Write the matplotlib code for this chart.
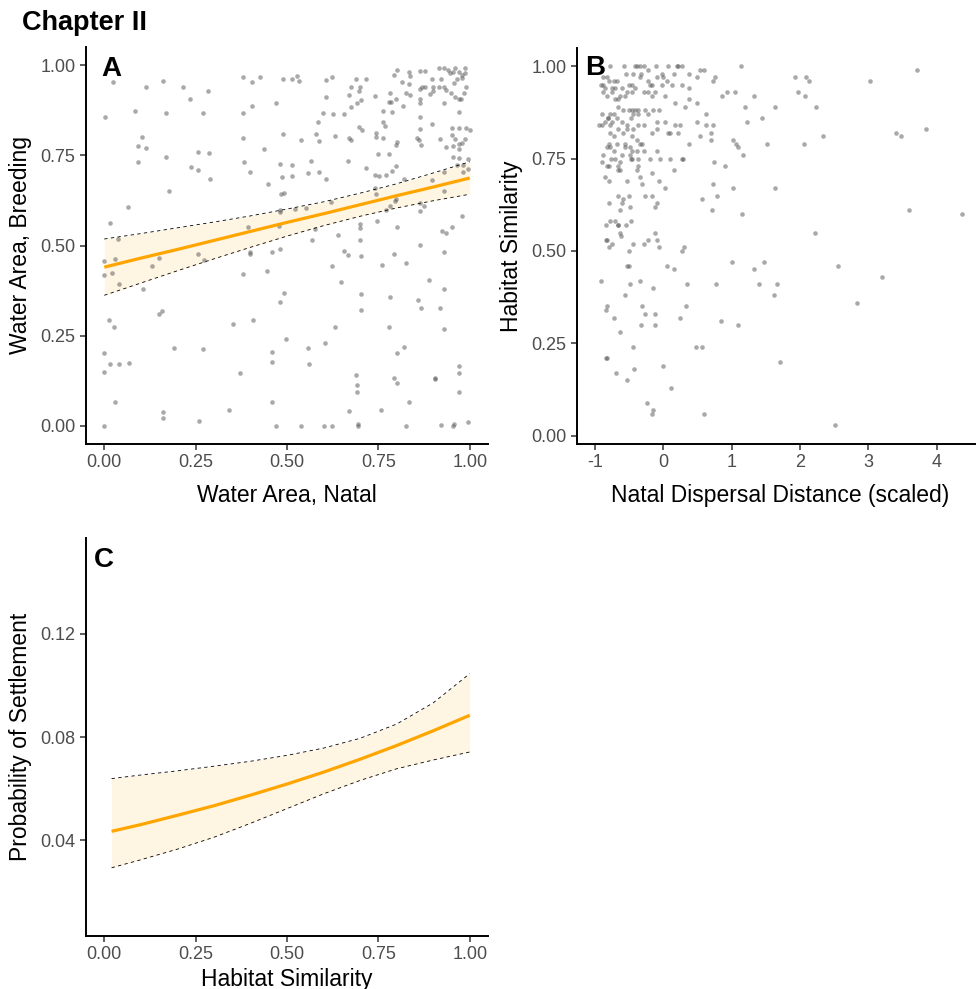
import matplotlib
matplotlib.use("Agg")
import matplotlib.pyplot as plt
import numpy as np

plt.rcParams["font.family"] = ["Liberation Sans", "DejaVu Sans"]
plt.rcParams["axes.unicode_minus"] = False

# ---------------- Panel A: natal vs breeding water area ----------------
water_natal = [
    0.025, 0.114, 0.160, 0.216, 0.284, 0.234, 0.379, 0.403, 0.425, 0.489, 0.471, 0.403, 0.379, 0.003,
    0.084, 0.168, 0.270, 0.104, 0.093, 0.114, 0.093, 0.168, 0.257, 0.286, 0.236, 0.257, 0.288, 0.379,
    0.436, 0.489, 0.383, 0.398, 0.480, 0.486, 0.449, 0.483, 0.492, 0.177, 0.065, 0.015, 0.037, 0.393,
    0.478, 0.482, 0.481,
    0.000, 0.029, 0.000, 0.021, 0.041, 0.106, 0.130, 0.151, 0.257, 0.272, 0.398, 0.398, 0.458, 0.380,
    0.445, 0.492, 0.482, 0.012, 0.026, 0.150, 0.159, 0.352, 0.408, 0.498, 0.000, 0.015, 0.040, 0.067,
    0.000, 0.191, 0.270, 0.458, 0.458, 0.372, 0.030, 0.160, 0.160, 0.259, 0.342, 0.458, 0.471, 0.000,
    0.537, 0.600, 0.624, 0.694, 0.694, 0.826, 0.922, 0.953, 0.956, 0.996,
    0.514, 0.526, 0.532, 0.608, 0.624, 0.690, 0.715, 0.676, 0.701, 0.696, 0.671, 0.703, 0.691, 0.674,
    0.606, 0.598, 0.625, 0.657, 0.586, 0.537, 0.580, 0.587, 0.632, 0.671, 0.675, 0.696, 0.706, 0.741,
    0.763, 0.787, 0.762, 0.768, 0.744, 0.744, 0.763, 0.802, 0.797, 0.748, 0.780, 0.668, 0.567, 0.717,
    0.798, 0.788, 0.740, 0.752, 0.772, 0.514, 0.514, 0.557, 0.587, 0.607, 0.820, 0.898, 0.930, 0.981,
    0.996, 0.996, 0.953, 0.972, 0.966, 0.981, 0.935, 0.955, 0.970, 0.972, 0.980, 0.920, 0.988, 0.951,
    0.961, 0.952, 0.972, 0.990, 1.000, 0.897, 0.856, 0.861, 0.867, 0.863, 0.863, 0.972, 0.929, 0.863,
    0.863, 0.892, 0.899, 0.817, 0.826, 0.837, 0.781, 0.780, 0.784, 0.797, 0.814, 0.793, 0.802, 0.835,
    0.837, 0.834, 0.864, 0.877, 0.863, 0.869, 0.878, 0.898, 0.922, 0.917, 0.929, 0.934, 0.949, 0.959,
    0.972, 0.977, 0.983, 0.917, 0.929, 0.940, 0.947, 0.954, 0.961, 0.972, 0.979, 0.987, 0.988, 0.958,
    0.966, 0.979, 0.989, 0.899,
    0.480, 0.521, 0.551, 0.621, 0.744, 0.742, 0.799, 0.795, 0.781, 0.770, 0.863, 0.875, 0.863, 0.929,
    0.747, 0.700, 0.701, 0.802, 0.979, 0.952, 0.923, 0.934, 0.576, 0.639, 0.569, 0.700, 0.863,
    0.655, 0.667, 0.702, 0.793, 0.930, 0.623, 0.759, 0.826, 0.648, 0.889, 0.702, 0.783, 0.859, 0.866,
    0.929, 0.920, 0.702, 0.632, 0.780, 0.929, 0.557, 0.604, 0.559, 0.821, 0.802, 0.970, 0.971, 0.690,
    0.691, 0.691, 0.793, 0.802, 0.904, 0.904, 0.972, 0.833, 0.670, 0.756,
]
water_breeding = [
    0.952, 0.939, 0.955, 0.939, 0.927, 0.905, 0.968, 0.952, 0.968, 0.962, 0.896, 0.886, 0.867, 0.856,
    0.873, 0.867, 0.866, 0.801, 0.776, 0.771, 0.730, 0.744, 0.759, 0.757, 0.717, 0.709, 0.684, 0.797,
    0.767, 0.810, 0.730, 0.704, 0.725, 0.689, 0.670, 0.644, 0.646, 0.650, 0.608, 0.563, 0.517, 0.552,
    0.554, 0.592, 0.489,
    0.457, 0.462, 0.419, 0.423, 0.394, 0.379, 0.443, 0.466, 0.476, 0.460, 0.483, 0.476, 0.483, 0.422,
    0.428, 0.368, 0.343, 0.294, 0.274, 0.311, 0.319, 0.283, 0.294, 0.240, 0.202, 0.173, 0.171, 0.175,
    0.150, 0.216, 0.212, 0.206, 0.176, 0.147, 0.066, 0.038, 0.022, 0.014, 0.045, 0.066, 0.000, 0.000,
    0.000, 0.000, 0.000, 0.006, 0.000, 0.000, 0.003, 0.000, 0.006, 0.012,
    0.961, 0.970, 0.957, 0.958, 0.966, 0.961, 0.961, 0.940, 0.940, 0.929, 0.917, 0.903, 0.894, 0.885,
    0.912, 0.867, 0.865, 0.865, 0.843, 0.791, 0.809, 0.789, 0.803, 0.797, 0.791, 0.827, 0.820, 0.915,
    0.873, 0.870, 0.843, 0.831, 0.812, 0.801, 0.797, 0.786, 0.778, 0.754, 0.753, 0.735, 0.735, 0.715,
    0.719, 0.706, 0.696, 0.692, 0.694, 0.724, 0.693, 0.701, 0.703, 0.683, 0.683, 0.682, 0.704, 0.705,
    0.713, 0.740, 0.746, 0.743, 0.723, 0.723, 0.774, 0.776, 0.780, 0.767, 0.785, 0.795, 0.795, 0.806,
    0.794, 0.826, 0.826, 0.826, 0.819, 0.838, 0.797, 0.792, 0.778, 0.824, 0.857, 0.871, 0.894, 0.896,
    0.906, 0.920, 0.928, 0.886, 0.922, 0.917, 0.922, 0.898, 0.898, 0.905, 0.954, 0.972, 0.986, 0.981,
    0.970, 0.948, 0.983, 0.983, 0.935, 0.939, 0.939, 0.961, 0.961, 0.940, 0.940, 0.931, 0.922, 0.912,
    0.905, 0.905, 0.923, 0.991, 0.991, 0.986, 0.977, 0.981, 0.991, 0.981, 0.972, 0.979, 0.991, 0.949,
    0.961, 0.963, 0.940, 0.940,
    0.598, 0.601, 0.604, 0.620, 0.642, 0.658, 0.630, 0.623, 0.609, 0.598, 0.617, 0.609, 0.596, 0.651,
    0.569, 0.560, 0.548, 0.550, 0.583, 0.552, 0.540, 0.535, 0.545, 0.529, 0.514, 0.514, 0.501,
    0.486, 0.473, 0.470, 0.476, 0.483, 0.444, 0.447, 0.452, 0.398, 0.405, 0.365, 0.357, 0.348, 0.328,
    0.379, 0.328, 0.321, 0.275, 0.275, 0.268, 0.217, 0.229, 0.172, 0.219, 0.201, 0.165, 0.148, 0.140,
    0.114, 0.095, 0.134, 0.119, 0.134, 0.129, 0.093, 0.067, 0.042, 0.045,
]

# fitted linear model with 95% confidence band
fit_a_x = [0.0, 0.1, 0.2, 0.3, 0.4, 0.5, 0.6, 0.7, 0.8, 0.9, 1.0]
fit_a = [0.440, 0.465, 0.489, 0.514, 0.539, 0.564, 0.588, 0.613, 0.638, 0.662, 0.687]
fit_a_upper = [0.518, 0.533, 0.549, 0.565, 0.582, 0.601, 0.621, 0.645, 0.671, 0.701, 0.732]
fit_a_lower = [0.362, 0.396, 0.430, 0.463, 0.495, 0.526, 0.555, 0.581, 0.604, 0.624, 0.642]

# ---------------- Panel B: dispersal distance vs habitat similarity ----------------
dispersal = [
    -0.78, -0.58, -0.55, -0.45, -0.41, -0.39, -0.35, -0.33, -0.28, -0.22, -0.11, -0.02, 0.07, 0.20,
    0.22, 0.27, 0.37, 0.54, 0.59, 0.76, 1.13,
    -0.88, -0.83, -0.73, -0.68, -0.79, -0.91, -0.88, -0.85, -0.76, -0.71, -0.61, -0.51, -0.46, -0.41,
    -0.34, -0.23, -0.20, -0.17, -0.10, -0.02, 0.00, 0.05, 0.12, 0.15, 0.27, 0.37, 0.49, 0.73, 0.86,
    0.93, 1.05, 1.32,
    -0.89, -0.82, -0.76, -0.71, -0.66, -0.63, -0.57, -0.54, -0.46, -0.29, -0.23, -0.17, -0.13, 0.02,
    0.17, 0.37, 0.32, 0.49, 0.62, 1.20,
    -0.66, -0.59, -0.51, -0.46, -0.41, -0.37, -0.27, -0.15, -0.07, -0.68, -0.73, -0.78, -0.81, -0.90,
    -0.85, -0.81, -0.76, -0.90, -0.94, -0.78, -0.61, -0.54, -0.47, -0.44, -0.37, -0.22, -0.10, 0.02,
    0.17, 0.24, 0.49, 0.63, 0.73, 1.22, 1.45, -0.66, -0.54, -0.44, -0.37, -0.29, -0.17, -0.10, 0.07,
    0.10, 0.22, 0.37, 0.54, 0.70, 0.70, 1.02, 1.07, 1.09, 1.52,
    -0.78, -0.73, -0.68, -0.59, -0.56, -0.49, -0.46, -0.39, -0.34, -0.29, -0.79, -0.78, -0.83, -0.73,
    -0.56, -0.46, -0.39, -0.32,
    -0.89, -0.77, -0.71, -0.63, -0.90, -0.83, -0.79, -0.66, -0.61, -0.49, -0.47, -0.37, -0.20, -0.10,
    -0.05, 0.10, 0.27, 0.29, 0.16, -0.37, -0.39, -0.66, -0.46, -0.63, 0.74, 0.90, 1.17,
    -0.85, -0.79, -0.54, -0.34, -0.32, -0.16, -0.06, 0.02, -0.79, -0.67, -0.59, -0.61, -0.63, -0.49,
    -0.50, -0.27, -0.17, -0.12, -0.10, 0.56, 0.78, 0.71, 0.72, 1.02, 1.15,
    -0.84, -0.78, -0.71, -0.67, -0.66, -0.55, -0.47, -0.63, -0.62, -0.84, -0.12,
    -0.83, -0.76, -0.79, -0.51, -0.44, -0.28, -0.23, -0.10, -0.07, 0.27, 0.30, -0.54, -0.51, 0.05,
    0.15, -0.92, -0.34, -0.49, -0.15, 0.34, 0.77, 1.00, 1.33, 1.40, 1.47, -0.56, -0.84, -0.83, -0.73,
    -0.31, -0.27, -0.33, -0.13, -0.13, 0.33, 0.25, 0.85, 1.09, -0.63, -0.45, 0.48, 0.56, -0.84, -0.82,
    -0.70, -0.43, -0.01, -0.54, 0.11, -0.24, -0.15, -0.16, 0.59,
    1.92, 2.09, 2.13, 1.97, 2.08, 1.64, 2.23, 3.02, 3.72, 2.06, 2.33, 3.41, 3.48, 3.85, 1.64, 3.59,
    4.37, 2.22, 2.56, 3.20, 1.67, 1.62, 2.83, 1.70, 2.51,
]
habitat_similarity = [
    1.00, 1.00, 0.98, 0.98, 1.00, 1.00, 1.00, 0.98, 1.00, 0.99, 1.00, 0.98, 1.00, 1.00,
    1.00, 1.00, 0.98, 0.99, 0.99, 0.97, 1.00,
    0.97, 0.97, 0.96, 0.96, 0.96, 0.95, 0.95, 0.94, 0.94, 0.94, 0.94, 0.95, 0.95, 0.94,
    0.97, 0.96, 0.95, 0.95, 0.97, 0.95, 0.97, 0.96, 0.95, 0.98, 0.95, 0.94, 0.97, 0.96, 0.92,
    0.93, 0.93, 0.92,
    0.93, 0.92, 0.93, 0.91, 0.91, 0.92, 0.92, 0.93, 0.93, 0.93, 0.93, 0.92, 0.93, 0.92,
    0.90, 0.91, 0.89, 0.90, 0.87, 0.89,
    0.89, 0.88, 0.88, 0.88, 0.88, 0.88, 0.88, 0.88, 0.88, 0.86, 0.87, 0.87, 0.86, 0.87,
    0.85, 0.86, 0.85, 0.84, 0.84, 0.84, 0.85, 0.84, 0.86, 0.87, 0.87, 0.87, 0.85, 0.85,
    0.84, 0.84, 0.85, 0.84, 0.84, 0.85, 0.86, 0.83, 0.83, 0.83, 0.84, 0.84, 0.82, 0.83, 0.82,
    0.82, 0.82, 0.79, 0.81, 0.82, 0.80, 0.80, 0.79, 0.78, 0.79,
    0.82, 0.81, 0.79, 0.82, 0.79, 0.78, 0.81, 0.80, 0.79, 0.77, 0.79, 0.78, 0.78, 0.77,
    0.78, 0.77, 0.77, 0.79,
    0.76, 0.75, 0.75, 0.74, 0.74, 0.73, 0.73, 0.73, 0.76, 0.76, 0.75, 0.75, 0.75, 0.77,
    0.75, 0.75, 0.75, 0.75, 0.72, 0.73, 0.72, 0.72, 0.75, 0.72, 0.74, 0.73, 0.76,
    0.70, 0.69, 0.69, 0.70, 0.68, 0.71, 0.69, 0.67, 0.63, 0.65, 0.64, 0.63, 0.61, 0.62,
    0.65, 0.65, 0.65, 0.62, 0.63, 0.64, 0.65, 0.61, 0.68, 0.67, 0.60,
    0.57, 0.58, 0.58, 0.57, 0.57, 0.57, 0.58, 0.55, 0.54, 0.53, 0.55,
    0.53, 0.52, 0.51, 0.50, 0.52, 0.52, 0.53, 0.53, 0.51, 0.50, 0.51, 0.46, 0.46, 0.46,
    0.45, 0.42, 0.42, 0.41, 0.40, 0.41, 0.41, 0.47, 0.45, 0.41, 0.47, 0.38, 0.34, 0.35, 0.32,
    0.35, 0.33, 0.30, 0.33, 0.30, 0.35, 0.32, 0.31, 0.30, 0.28, 0.24, 0.24, 0.24, 0.21, 0.21,
    0.17, 0.18, 0.19, 0.15, 0.13, 0.09, 0.07, 0.06, 0.06,
    0.97, 0.97, 0.96, 0.93, 0.92, 0.89, 0.89, 0.96, 0.99, 0.79, 0.81, 0.82, 0.81, 0.83, 0.67, 0.61,
    0.60, 0.55, 0.46, 0.43, 0.41, 0.38, 0.36, 0.20, 0.03,
]

# ---------------- Panel C: predicted probability of settlement ----------------
settle_x = [0.02, 0.1, 0.2, 0.3, 0.4, 0.5, 0.6, 0.7, 0.8, 0.9, 1.0]
settle_fit = [0.0435, 0.0461, 0.0497, 0.0534, 0.0575, 0.0618, 0.0664, 0.0714, 0.0767, 0.0824, 0.0884]
settle_upper = [0.0639, 0.0653, 0.0669, 0.0687, 0.0706, 0.0729, 0.0757, 0.0795, 0.0850, 0.0932, 0.1045]
settle_lower = [0.0294, 0.0325, 0.0366, 0.0412, 0.0466, 0.0523, 0.0580, 0.0632, 0.0677, 0.0711, 0.0742]

unit_ticks = [0.0, 0.25, 0.5, 0.75, 1.0]
unit_labels = ["0.00", "0.25", "0.50", "0.75", "1.00"]
dist_ticks = [-1, 0, 1, 2, 3, 4]
dist_labels = ["-1", "0", "1", "2", "3", "4"]
prob_ticks = [0.04, 0.08, 0.12]
prob_labels = ["0.04", "0.08", "0.12"]

W, H = 976, 989
fig = plt.figure(figsize=(W / 100, H / 100), dpi=100)

ORANGE = "#FFA500"
POINT = "#4d4d4d"
TICK_GRAY = "#4D4D4D"


def px_axes(left, top, right, bottom):
    return fig.add_axes([left / W, 1 - bottom / H, (right - left) / W, (bottom - top) / H])


def classic(ax, xlabel, ylabel, xpad=9):
    for s in ("top", "right"):
        ax.spines[s].set_visible(False)
    for s in ("left", "bottom"):
        ax.spines[s].set_linewidth(1.4)
        ax.spines[s].set_color("black")
    ax.tick_params(axis="both", which="major", length=4.5, width=1.1, color="#333333",
                   labelsize=13, labelcolor=TICK_GRAY, pad=3)
    ax.set_xlabel(xlabel, fontsize=16.5, color="black", labelpad=xpad)
    ax.set_ylabel(ylabel, fontsize=16.5, color="black", labelpad=6)


def band(ax, x, fit, lo, hi):
    ax.fill_between(x, lo, hi, color=ORANGE, alpha=0.11, linewidth=0, zorder=1)
    ax.plot(x, hi, color="black", lw=0.6, ls=(0, (4, 4)), zorder=3)
    ax.plot(x, lo, color="black", lw=0.6, ls=(0, (4, 4)), zorder=3)
    ax.plot(x, fit, color=ORANGE, lw=2.3, solid_capstyle="butt", zorder=4)


# Panel A
axA = px_axes(86, 47, 488, 444)
band(axA, fit_a_x, fit_a, fit_a_lower, fit_a_upper)
axA.scatter(water_natal, water_breeding, s=11, color=POINT, alpha=0.48, linewidths=0, zorder=2)
axA.set_xlim(-0.05, 1.05)
axA.set_ylim(-0.05, 1.05)
axA.set_xticks(unit_ticks, unit_labels)
axA.set_yticks(unit_ticks, unit_labels)
classic(axA, "Water Area, Natal", "Water Area, Breeding")
axA.text(0.037, 0.927, "A", transform=axA.transAxes, fontsize=20, fontweight="bold",
         ha="left", va="baseline")

# Panel B
axB = px_axes(576.7, 48, 983, 444)
axB.scatter(dispersal, habitat_similarity, s=11, color=POINT, alpha=0.48, linewidths=0, zorder=2)
axB.set_xlim(-1.27, 4.68)
axB.set_ylim(-0.022, 1.049)
axB.set_xticks(dist_ticks, dist_labels)
axB.set_yticks(unit_ticks, unit_labels)
classic(axB, "Natal Dispersal Distance (scaled)", "Habitat Similarity")
axB.text(0.020, 0.932, "B", transform=axB.transAxes, fontsize=20, fontweight="bold",
         ha="left", va="baseline")

# Panel C
axC = px_axes(86, 538, 488, 936)
band(axC, settle_x, settle_fit, settle_lower, settle_upper)
axC.set_xlim(-0.05, 1.05)
axC.set_ylim(0.003, 0.157)
axC.set_xticks(unit_ticks, unit_labels)
axC.set_yticks(prob_ticks, prob_labels)
classic(axC, "Habitat Similarity", "Probability of Settlement", xpad=3)
axC.text(0.020, 0.927, "C", transform=axC.transAxes, fontsize=20, fontweight="bold",
         ha="left", va="baseline")

fig.text(21.7 / W, 1 - 30 / H, "Chapter II", fontsize=19.5, fontweight="bold",
         ha="left", va="baseline")

fig.savefig("out.png", dpi=100)
